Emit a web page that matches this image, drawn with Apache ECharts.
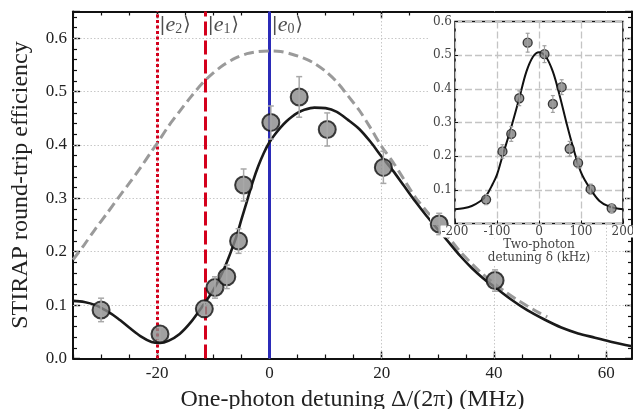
<!DOCTYPE html>
<html>
<head>
<meta charset="utf-8">
<script src="https://cdn.jsdelivr.net/npm/echarts@6/dist/echarts.min.js"></script>
<style>
  html, body { margin: 0; padding: 0; background: #fff; }
  #chart { width: 633px; height: 409px; }
</style>
</head>
<body>
<div id="chart"></div>
<script>
// Measured STIRAP round-trip efficiency vs one-photon detuning (MHz)
const detuning      = [-30, -19.5, -11.6, -9.7, -7.6, -5.5, -4.6, 0.25, 5.3, 10.3, 20.3, 30.25, 40.2];
const efficiency    = [0.091, 0.046, 0.093, 0.133, 0.153, 0.220, 0.325, 0.442, 0.490, 0.429, 0.358, 0.252, 0.146];
const efficiencyErr = [0.022, 0.012, 0.012, 0.020, 0.022, 0.023, 0.030, 0.031, 0.038, 0.031, 0.030, 0.020, 0.020];

// Model curve including the excited-state manifold (solid)
const modelDetuning  = [-35, -33, -31, -29, -27, -25, -23, -21, -19.5, -18, -16, -14, -12, -10, -8, -6, -5, -4, -3, -2, -1, 0, 1, 2, 3, 4, 5, 6, 8, 10, 12, 14, 16, 18, 20, 22, 24, 26, 28, 30, 32, 34, 36, 38, 40, 43, 46, 49, 52, 55, 58, 61, 64.6];
const modelEfficiency = [0.108, 0.106, 0.100, 0.089, 0.075, 0.058, 0.042, 0.031, 0.029, 0.033, 0.046, 0.068, 0.097, 0.128, 0.170, 0.225, 0.260, 0.295, 0.330, 0.360, 0.385, 0.405, 0.420, 0.433, 0.444, 0.453, 0.460, 0.465, 0.470, 0.469, 0.462, 0.447, 0.430, 0.406, 0.378, 0.352, 0.323, 0.294, 0.267, 0.242, 0.217, 0.192, 0.170, 0.151, 0.135, 0.111, 0.090, 0.073, 0.058, 0.047, 0.039, 0.031, 0.023];

// Single-level model curve (dashed)
const singleDetuning  = [-35, -33, -31, -29, -27, -25, -23, -21, -20, -18, -16, -14, -12, -10, -8, -6, -4, -2, 0, 2, 4, 6, 8, 10, 12, 14, 16, 18, 20, 22, 24, 26, 28, 30, 32, 34, 36, 38, 40, 42, 44, 46, 48, 49.5];
const singleEfficiency = [0.185, 0.213, 0.243, 0.271, 0.300, 0.328, 0.357, 0.388, 0.403, 0.435, 0.463, 0.490, 0.515, 0.535, 0.551, 0.563, 0.571, 0.575, 0.576, 0.575, 0.570, 0.563, 0.553, 0.538, 0.518, 0.492, 0.465, 0.432, 0.397, 0.368, 0.335, 0.302, 0.276, 0.252, 0.226, 0.200, 0.178, 0.158, 0.141, 0.125, 0.111, 0.098, 0.086, 0.078];

// Excited-state levels
const levelDetuning = [-20, -11.4, 0];
const levelIndex    = ['2', '1', '0'];

// Inset: two-photon detuning scan (kHz)
const scanDetuning  = [-126, -87, -66, -47, -27, 13, 33, 54, 73, 93, 123, 173];
const scanEfficiency = [0.071, 0.214, 0.266, 0.372, 0.537, 0.503, 0.355, 0.405, 0.222, 0.180, 0.102, 0.045];
const scanErr       = [0.015, 0.020, 0.022, 0.022, 0.028, 0.025, 0.025, 0.022, 0.022, 0.015, 0.015, 0.012];
const scanFitDetuning  = [-200, -180, -160, -140, -126, -110, -100, -87, -67, -47, -30, -14, 0, 16, 33, 49, 65, 81, 100, 120, 144, 168, 200];
const scanFitEfficiency = [0.042, 0.045, 0.052, 0.066, 0.082, 0.118, 0.145, 0.200, 0.282, 0.372, 0.451, 0.496, 0.509, 0.496, 0.451, 0.381, 0.301, 0.227, 0.152, 0.107, 0.067, 0.050, 0.042];

// Tick labels
const mainXLabels = [-20, 0, 20, 40, 60];
const mainYLabels = [0, 0.1, 0.2, 0.3, 0.4, 0.5, 0.6];

const SERIF = '"Liberation Serif", "DejaVu Serif", serif';
const INSET_FONT = '"DejaVu Serif", serif';

const zip = (xs, ys) => xs.map((x, i) => [x, ys[i]]);
const bars = (xs, ys, es) => xs.map((x, i) => [x, ys[i] - es[i], ys[i] + es[i]]);

function errorBars(capHalf, color, width) {
  return function (params, api) {
    const x = api.value(0);
    const lo = api.coord([x, api.value(1)]);
    const hi = api.coord([x, api.value(2)]);
    const st = { stroke: color, lineWidth: width };
    return {
      type: 'group',
      children: [
        { type: 'line', shape: { x1: lo[0], y1: lo[1], x2: hi[0], y2: hi[1] }, style: st },
        { type: 'line', shape: { x1: lo[0] - capHalf, y1: lo[1], x2: lo[0] + capHalf, y2: lo[1] }, style: st },
        { type: 'line', shape: { x1: hi[0] - capHalf, y1: hi[1], x2: hi[0] + capHalf, y2: hi[1] }, style: st }
      ]
    };
  };
}

const frameLine = { show: true, onZero: false, lineStyle: { color: '#111', width: 2 } };
const noLine = { show: false, onZero: false };
const minorX = { min: -35, max: 64.6, interval: 5 };

const chart = echarts.init(document.getElementById('chart'), null, { renderer: 'canvas' });

chart.setOption({
  animation: false,
  backgroundColor: '#fff',
  graphic: [{
    type: 'rect', z: 8, silent: true,
    shape: { x: 430, y: 13, width: 195, height: 212 },
    style: { fill: '#fff' }
  }],
  grid: [
    { left: 73, right: 1, top: 11.5, bottom: 50.5, outerBoundsMode: 'none', containLabel: false },
    { left: 455, top: 21.5, width: 168, height: 202, show: true, z: 10, outerBoundsMode: 'none', containLabel: false,
      backgroundColor: 'transparent', borderColor: '#111', borderWidth: 1.6 }
  ],
  xAxis: [
    { gridIndex: 0, type: 'value', position: 'bottom', ...minorX,
      axisLine: frameLine,
      axisTick: { inside: true, length: 4, lineStyle: { color: '#111', width: 1.2 } },
      axisLabel: { customValues: mainXLabels, color: '#222', fontFamily: SERIF, fontSize: 17, margin: 7,
        formatter: v => String(Math.round(v)) },
      splitLine: { show: false },
      name: 'One-photon detuning \u0394/(2\u03C0) (MHz)', nameLocation: 'middle', nameGap: 26,
      nameTextStyle: { color: '#222', fontFamily: SERIF, fontSize: 24 } },
    { gridIndex: 0, type: 'value', position: 'bottom', ...minorX,
      axisLine: noLine,
      axisTick: { inside: true, length: 7, customValues: mainXLabels, lineStyle: { color: '#111', width: 1.4 } },
      axisLabel: { show: false }, splitLine: { show: false } },
    { gridIndex: 0, type: 'value', position: 'top', ...minorX,
      axisLine: frameLine,
      axisTick: { inside: true, length: 4, lineStyle: { color: '#111', width: 1.2 } },
      axisLabel: { show: false }, splitLine: { show: false } },
    { gridIndex: 0, type: 'value', position: 'top', ...minorX,
      axisLine: noLine,
      axisTick: { inside: true, length: 7, customValues: mainXLabels, lineStyle: { color: '#111', width: 1.4 } },
      axisLabel: { show: false }, splitLine: { show: false } },
    { gridIndex: 1, type: 'value', min: -200, max: 200, interval: 100, z: 11,
      axisLine: noLine,
      axisTick: { inside: true, length: 3, lineStyle: { color: '#111' } },
      axisLabel: { color: '#444', fontFamily: INSET_FONT, fontSize: 12, margin: 2,
        backgroundColor: '#fff', padding: [0, 1], formatter: v => String(v) },
      splitLine: { show: true, lineStyle: { color: '#c4c4c4', width: 1.3, type: [7, 3] } },
      name: 'Two-photon\ndetuning \u03B4 (kHz)', nameLocation: 'middle', nameGap: 5,
      nameTextStyle: { color: '#444', fontFamily: INSET_FONT, fontSize: 12, lineHeight: 13,
        backgroundColor: '#fff', padding: [0, 2], verticalAlign: 'top' } }
  ],
  yAxis: [
    { gridIndex: 0, type: 'value', position: 'left', min: 0, max: 0.65, interval: 0.1,
      axisLine: frameLine,
      axisTick: { inside: true, length: 7, lineStyle: { color: '#111', width: 1.4 } },
      minorTick: { show: true, splitNumber: 5, length: 4, lineStyle: { color: '#111', width: 1.2 } },
      axisLabel: { color: '#222', fontFamily: SERIF, fontSize: 17, margin: 6,
        formatter: v => (Math.abs(v * 10 - Math.round(v * 10)) < 1e-6 ? v.toFixed(1) : '') },
      splitLine: { show: false },
      name: 'STIRAP round-trip efficiency', nameLocation: 'middle', nameGap: 40, nameRotate: 90,
      nameTextStyle: { color: '#222', fontFamily: SERIF, fontSize: 24 } },
    { gridIndex: 0, type: 'value', position: 'right', min: 0, max: 0.65, interval: 0.1,
      axisLine: frameLine,
      axisTick: { inside: true, length: 7, lineStyle: { color: '#111', width: 1.4 } },
      minorTick: { show: true, splitNumber: 5, length: 4, lineStyle: { color: '#111', width: 1.2 } },
      axisLabel: { show: false }, splitLine: { show: false } },
    { gridIndex: 1, type: 'value', min: 0, max: 0.6, interval: 0.1, z: 11,
      axisLine: noLine,
      axisTick: { inside: true, length: 3, lineStyle: { color: '#111' } },
      axisLabel: { color: '#444', fontFamily: INSET_FONT, fontSize: 12, margin: 3,
        formatter: v => (v < 0.05 ? '' : v.toFixed(1)) },
      splitLine: { show: true, lineStyle: { color: '#c4c4c4', width: 1.3, type: [7, 3] } } }
  ],
  series: [
    // dotted grid of the main panel
    { type: 'line', xAxisIndex: 0, yAxisIndex: 0, data: [], z: 1, silent: true,
      markLine: {
        silent: true, symbol: 'none', label: { show: false },
        lineStyle: { color: '#c8c8c8', width: 1, type: [1.5, 2] },
        data: mainXLabels.map(v => ({ xAxis: v })).concat(mainYLabels.filter(v => v > 0).map(v => ({ yAxis: v })))
      } },
    // excited-state markers
    { type: 'line', xAxisIndex: 0, yAxisIndex: 0, data: [], z: 3, silent: true,
      markLine: {
        silent: true, symbol: 'none', label: { show: false },
        data: [
          { xAxis: levelDetuning[0], lineStyle: { color: '#d4001c', width: 3, type: [3, 2.5] } },
          { xAxis: levelDetuning[1], lineStyle: { color: '#d4001c', width: 3, type: [14, 5] } },
          { xAxis: levelDetuning[2], lineStyle: { color: '#2b2bb8', width: 3, type: 'solid' } }
        ]
      } },
    { type: 'scatter', xAxisIndex: 0, yAxisIndex: 0, symbolSize: 0, z: 4, silent: true,
      data: levelDetuning.map((x, i) => ({ value: [x, 0.624], name: levelIndex[i] })),
      label: {
        show: true, position: 'right', distance: 2,
        formatter: p => '{b|\u007C}{i|e}{s|' + p.name + '}{b|\u27E9}',
        rich: {
          b: { fontFamily: '"DejaVu Serif", serif', fontSize: 19, color: '#222' },
          i: { fontFamily: SERIF, fontStyle: 'italic', fontSize: 22, color: '#222' },
          s: { fontFamily: SERIF, fontSize: 14, color: '#222', padding: [8, 1, 0, 0] }
        }
      } },
    // single-level curve
    { type: 'line', xAxisIndex: 0, yAxisIndex: 0, data: zip(singleDetuning, singleEfficiency),
      showSymbol: false, smooth: 0.3, z: 5, silent: true,
      lineStyle: { color: '#9a9a9a', width: 3, type: [10, 5] } },
    // full model curve
    { type: 'line', xAxisIndex: 0, yAxisIndex: 0, data: zip(modelDetuning, modelEfficiency),
      showSymbol: false, smooth: 0.3, z: 6, silent: true,
      lineStyle: { color: '#1a1a1a', width: 2.6 } },
    // measured points
    { type: 'scatter', xAxisIndex: 0, yAxisIndex: 0, data: zip(detuning, efficiency),
      symbol: 'circle', symbolSize: 17, z: 9, silent: true,
      itemStyle: { color: '#8a8a8a', borderColor: '#111', borderWidth: 2 } },
    { type: 'custom', xAxisIndex: 0, yAxisIndex: 0, data: bars(detuning, efficiency, efficiencyErr),
      encode: { x: 0, y: [1, 2] }, z: 10, silent: true,
      renderItem: errorBars(3, '#a8a8a8', 1.5) },
    // inset
    { type: 'line', xAxisIndex: 4, yAxisIndex: 2, data: zip(scanFitDetuning, scanFitEfficiency),
      showSymbol: false, smooth: 0.35, z: 12, silent: true,
      lineStyle: { color: '#111', width: 2 } },
    { type: 'scatter', xAxisIndex: 4, yAxisIndex: 2, data: zip(scanDetuning, scanEfficiency),
      symbol: 'circle', symbolSize: 9, z: 13, silent: true,
      itemStyle: { color: '#7c7c7c', borderColor: '#111', borderWidth: 1.3 } },
    { type: 'custom', xAxisIndex: 4, yAxisIndex: 2, data: bars(scanDetuning, scanEfficiency, scanErr),
      encode: { x: 0, y: [1, 2] }, z: 14, silent: true,
      renderItem: errorBars(2, '#a0a0a0', 1.2) }
  ]
});
</script>
</body>
</html>
